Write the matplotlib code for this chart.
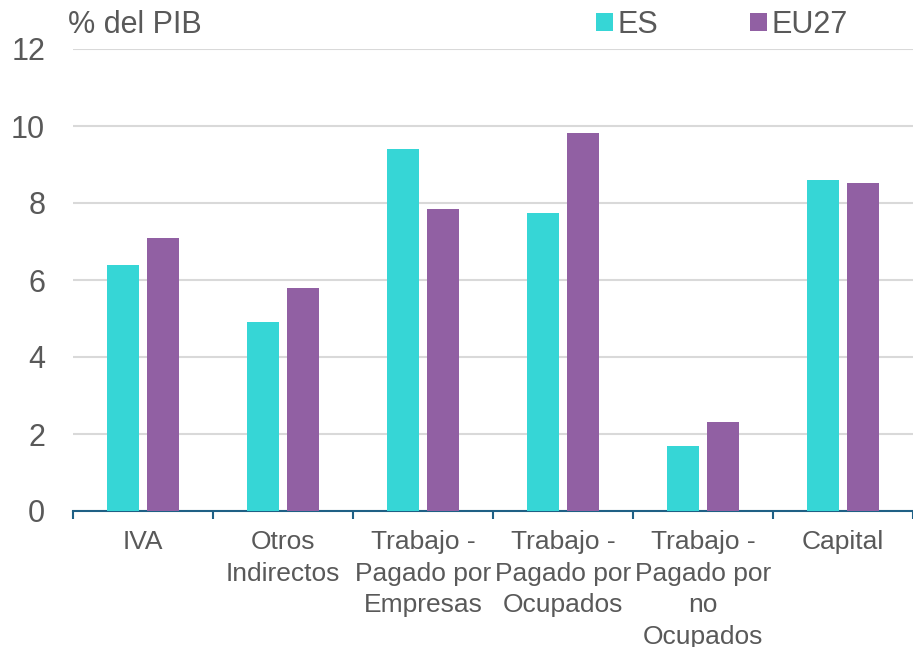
import matplotlib
matplotlib.use("Agg")
import matplotlib.pyplot as plt
import numpy as np

plt.rcParams['font.family'] = ['Liberation Sans', 'DejaVu Sans']

categories = ["IVA", "Otros\nIndirectos", "Trabajo -\nPagado por\nEmpresas",
              "Trabajo -\nPagado por\nOcupados", "Trabajo -\nPagado por\nno\nOcupados", "Capital"]
es_values = [6.4, 4.9, 9.4, 7.75, 1.7, 8.6]
eu27_values = [7.1, 5.8, 7.85, 9.82, 2.3, 8.52]
series_names = ["ES", "EU27"]
yticks = [0, 2, 4, 6, 8, 10, 12]

c_es = "#36D6D6"
c_eu = "#9160A3"
txt = "#595959"
axis_c = "#1F6085"
grid_c = "#D9D9D9"

fig = plt.figure(figsize=(9.13, 6.47), dpi=100)
ax = fig.add_axes([73/913, 1-511/647, 1-73/913, (511-49)/647])

x = np.arange(len(categories))
w = 0.226
ax.bar(x - 0.142, es_values, w, color=c_es, label=series_names[0], zorder=3)
ax.bar(x + 0.142, eu27_values, w, color=c_eu, label=series_names[1], zorder=3)

ax.set_xlim(-0.5, len(categories) - 0.5)
ax.set_ylim(0, 12)
ax.set_yticks(yticks)
ax.set_yticklabels([str(v) for v in yticks], fontsize=22, color=txt)
ax.tick_params(axis='y', length=0, pad=20)
ax.yaxis.grid(True, color=grid_c, linewidth=1.5, zorder=0)
ax.set_axisbelow(True)

ax.set_xticks(x)
ax.set_xticklabels(categories, fontsize=19, color=txt, linespacing=1.39, va='top')
ax.tick_params(axis='x', which='major', length=0, pad=14)
ax.set_xticks(np.arange(-0.5, len(categories) + 0.5, 1), minor=True)
ax.tick_params(axis='x', which='minor', length=6, width=1.5, color=axis_c, direction='out')

for s in ['top', 'right', 'left']:
    ax.spines[s].set_visible(False)
ax.spines['bottom'].set_color(axis_c)
ax.spines['bottom'].set_linewidth(1.5)

fig.text(68/913, 1-25/647, "% del PIB", fontsize=22, color=txt, va='center', ha='left')

leg = fig.legend(loc='center', bbox_to_anchor=(722/913, 1-25/647), ncol=2, frameon=False,
                 fontsize=22, handlelength=0.55, handleheight=0.55, handletextpad=0.15,
                 columnspacing=3.0, labelcolor=txt)

fig.savefig("out.png", dpi=100)
